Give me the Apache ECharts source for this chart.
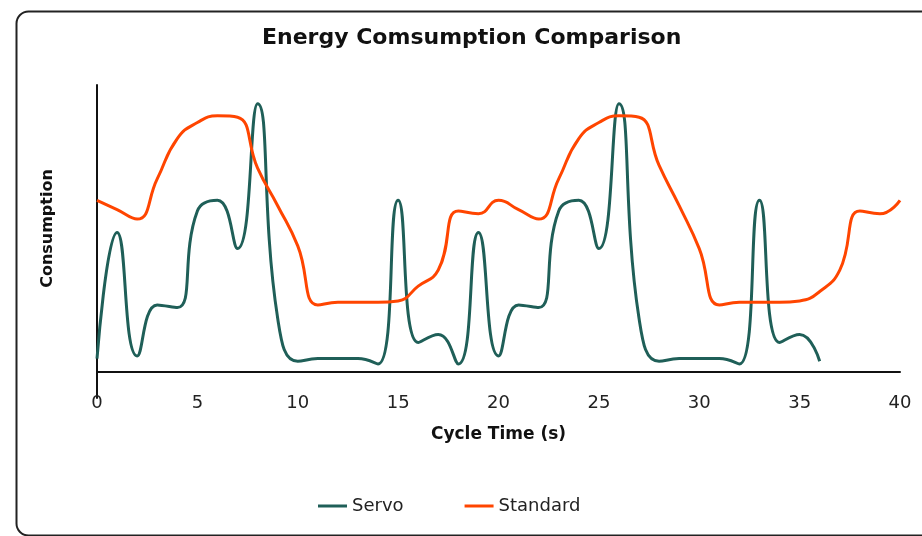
<!DOCTYPE html>
<html>
<head>
<meta charset="utf-8">
<script src="https://cdn.jsdelivr.net/npm/echarts@6/dist/echarts.min.js"></script>
<style>
    html, body { margin: 0; padding: 0; background: #fff; }
    #main { width: 922px; height: 536px; }
</style>
</head>
<body>
<div id="main"></div>
<script>
    // cycle time in seconds, 0..40
    var times = [];
    for (var i = 0; i <= 40; i++) times.push(i);

    // arbitrary consumption units
    var servo = [5, 52, 6, 25, 24, 60, 64, 46, 100, 20, 4, 5, 5, 5, 3, 64, 11, 14, 3,
                 52, 6, 25, 24, 60, 64, 46, 100, 20, 4, 5, 5, 5, 3, 64, 11, 14, 4];
    var standard = [64, 60.5, 57, 72, 87, 93, 95.5, 95, 76, 62, 47, 25, 26, 26, 26, 26.5, 32, 38, 60, 59,
                    64, 60.5, 57, 72, 87, 93, 95.5, 95, 77, 62, 46, 25, 26, 26, 26, 26.5, 30, 38, 60, 59, 64];

    var xTicks = [0, 5, 10, 15, 20, 25, 30, 35, 40];

    function pairs(vals) {
        return vals.map(function (v, i) { return [times[i], v]; });
    }

    var chart = echarts.init(document.getElementById('main'));
    var font = 'DejaVu Sans, sans-serif';

    chart.setOption({
        animation: false,
        textStyle: { fontFamily: font },
        title: {
            text: 'Energy Comsumption Comparison',
            left: 257,
            top: 22,
            textStyle: { fontSize: 22, fontWeight: 'bold', color: '#111', fontFamily: font }
        },
        graphic: [{
            type: 'rect',
            left: 14, top: 9,
            shape: { width: 930, height: 524, r: 12 },
            style: { fill: 'none', stroke: '#222', lineWidth: 2 },
            silent: true,
            z: -1
        }],
        legend: {
            left: 313,
            top: 492,
            icon: 'rect',
            itemWidth: 29,
            itemHeight: 3,
            itemGap: 61,
            textStyle: { fontSize: 18, color: '#222', fontFamily: font },
            data: ['Servo', 'Standard']
        },
        grid: { left: 97, right: 22, top: 85, bottom: 138 },
        xAxis: {
            type: 'value',
            min: 0, max: 40, interval: 5,
            name: 'Cycle Time (s)',
            nameLocation: 'middle',
            nameGap: 28,
            nameTextStyle: { fontSize: 17, fontWeight: 'bold', color: '#111', fontFamily: font },
            axisLine: { onZero: true, lineStyle: { color: '#111', width: 2 } },
            axisTick: { show: false },
            splitLine: { show: false },
            axisLabel: {
                fontSize: 18, color: '#222', margin: -4, fontFamily: font,
                customValues: xTicks
            }
        },
        yAxis: {
            type: 'value',
            min: -9.7, max: 107,
            name: 'Consumption',
            nameLocation: 'middle',
            nameGap: 41,
            nameTextStyle: { fontSize: 16, fontWeight: 'bold', color: '#111', fontFamily: font, padding: [0, 0, 0, 26] },
            axisLine: { show: true, lineStyle: { color: '#111', width: 2 } },
            axisTick: { show: false },
            axisLabel: { show: false },
            splitLine: { show: false }
        },
        series: [
            {
                name: 'Servo',
                type: 'line',
                data: pairs(servo),
                smooth: 0.5,
                symbol: 'none',
                lineStyle: { color: '#1f5f58', width: 3 },
                itemStyle: { color: '#1f5f58' }
            },
            {
                name: 'Standard',
                type: 'line',
                data: pairs(standard),
                smooth: 0.5,
                symbol: 'none',
                lineStyle: { color: '#ff4500', width: 3 },
                itemStyle: { color: '#ff4500' }
            }
        ]
    });
</script>
</body>
</html>
